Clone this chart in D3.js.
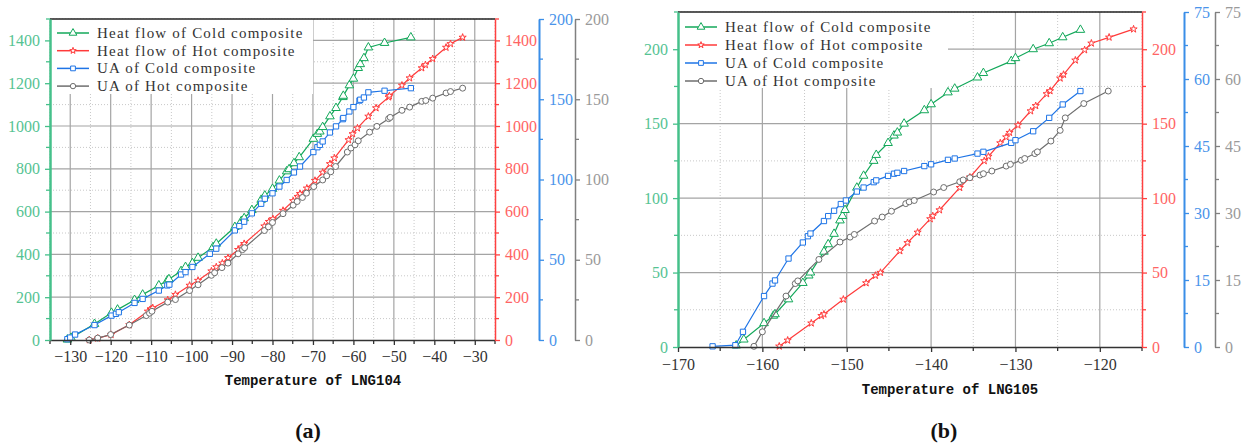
<!DOCTYPE html>
<html>
<head>
<meta charset="utf-8">
<script src="https://cdn.jsdelivr.net/npm/d3@7"></script>
<style>
  body { margin: 0; background: #fff; }
  svg { display: block; }
</style>
</head>
<body>
<script>
// ---- data (temperature, value) ----
// panel (a) LNG104
const aColdHeat = [[-130.7,2],[-129.8,10],[-124.0,75],[-119.8,127],[-118.3,142],[-114.1,187],[-112.1,212],[-108.1,255],[-106.0,278],[-105.6,284],[-102.6,322],[-101.5,341],[-99.8,359],[-98.4,384],[-94.7,434],[-93.9,450],[-89.3,528],[-87.7,556],[-87.0,569],[-85.1,607],[-82.8,655],[-81.9,675],[-80.0,706],[-78.3,745],[-76.5,788],[-75.9,798],[-74.7,826],[-73.4,854],[-69.9,940],[-68.9,963],[-68.3,974],[-67.6,995],[-65.8,1045],[-64.3,1084],[-62.6,1135],[-62.5,1141],[-61.0,1190],[-60.0,1221],[-58.8,1271],[-58.3,1289],[-57.4,1317],[-56.3,1367],[-52.3,1388],[-45.8,1414]];
const aHotHeat = [[-125.3,0],[-123.2,8],[-119.9,25],[-115.4,71],[-110.8,134],[-110.0,145],[-109.6,150],[-105.9,187],[-104.0,212],[-100.5,255],[-98.4,278],[-95.1,322],[-93.9,341],[-92.4,359],[-91.0,384],[-88.5,422],[-87.7,434],[-87.0,450],[-82.0,532],[-80.9,553],[-79.9,566],[-77.4,605],[-74.9,650],[-73.8,670],[-73.2,684],[-71.5,709],[-69.5,745],[-67.6,783],[-65.8,823],[-64.7,850],[-61.2,935],[-60.2,963],[-59.0,990],[-56.3,1045],[-54.4,1084],[-51.3,1135],[-51.1,1141],[-48.0,1190],[-46.1,1224],[-43.1,1271],[-42.2,1286],[-40.4,1314],[-37.1,1367],[-36.0,1384],[-33.0,1414]];
const aColdUA = [[-130.7,0.5],[-130.0,1.5],[-128.8,3.4],[-124.0,9.3],[-119.8,15.2],[-118.7,16.3],[-118.0,17.3],[-114.1,23.1],[-112.1,25.6],[-108.1,30.8],[-106.0,34.0],[-105.5,34.5],[-102.6,40.8],[-101.5,42.3],[-99.8,45.5],[-95.5,53.7],[-93.9,56.9],[-89.3,68.3],[-88.2,71.0],[-87.0,73.7],[-85.1,78.9],[-82.8,84.9],[-81.9,88.0],[-80.0,91.4],[-78.3,95.6],[-76.5,99.7],[-74.7,104.4],[-73.2,108.1],[-69.9,117.1],[-68.9,120.1],[-68.3,121.6],[-67.6,123.7],[-65.8,129.3],[-64.3,133.1],[-62.6,137.6],[-62.5,138.3],[-61.0,142.4],[-60.0,145.1],[-58.5,149.2],[-58.3,149.7],[-57.4,151.1],[-56.3,154.3],[-52.3,155.3],[-45.8,156.9]];
const aHotUA = [[-125.3,0],[-123.2,1.2],[-120.0,3.4],[-115.4,9.3],[-111.2,15.2],[-110.4,16.7],[-109.8,17.9],[-105.9,23.6],[-104.0,25.2],[-100.5,30.8],[-98.4,34.4],[-95.1,40.3],[-94.3,41.9],[-92.5,45.1],[-91.0,47.9],[-88.5,53.7],[-87.4,56.3],[-86.9,57.5],[-82.0,68.2],[-81.0,70.5],[-80.0,73.2],[-77.4,78.7],[-74.9,84.0],[-73.9,86.3],[-72.6,88.8],[-71.6,91.5],[-69.8,95.6],[-67.6,99.7],[-66.6,102.3],[-65.6,104.8],[-64.4,108.1],[-61.5,117.1],[-60.6,119.6],[-59.6,121.6],[-58.8,124.1],[-56.0,129.5],[-54.2,133.1],[-51.3,137.9],[-50.9,138.7],[-48.0,143.1],[-46.1,145.1],[-43.1,148.7],[-42.1,149.2],[-40.4,150.7],[-37.1,153.9],[-36.0,154.8],[-33.0,156.9]];

// panel (b) LNG105
const bColdHeat = [[-163.1,1],[-162.2,5],[-159.8,16],[-158.7,21],[-158.5,22],[-156.9,32],[-155.2,43],[-154.5,48],[-154.3,50],[-152.7,64],[-152.2,69],[-151.5,76],[-150.8,85],[-150.5,88],[-150.2,92],[-148.8,107],[-148.0,115],[-146.8,125],[-146.5,129],[-145.1,137],[-144.4,142],[-144.0,144],[-143.2,150],[-140.8,159],[-140.0,163],[-138.0,171],[-137.2,173.5],[-134.5,181],[-133.8,184],[-130.5,192],[-130.0,194],[-127.9,200],[-126.0,204],[-124.4,208],[-122.3,213]];
const bHotHeat = [[-158.0,0.5],[-157.0,4.5],[-154.2,16],[-153.0,21],[-152.7,22],[-150.4,32],[-147.7,43],[-146.6,48],[-146.0,50],[-143.7,64.5],[-142.8,70],[-141.6,77],[-140.1,86],[-139.8,88],[-139.0,92],[-136.6,107],[-135.4,114],[-133.7,125],[-133.2,128],[-131.8,137],[-131.1,141],[-130.7,144],[-129.7,149],[-128.2,158.5],[-127.6,162],[-126.3,170],[-125.9,172],[-124.7,180.5],[-124.3,183],[-122.9,192.6],[-121.8,199.5],[-121.0,204],[-118.9,208],[-116.0,213.5]];
const bColdUA = [[-165.9,0.15],[-163.2,0.4],[-162.3,3.4],[-159.8,11.4],[-158.8,14.2],[-158.5,14.9],[-156.9,19.8],[-155.2,23.4],[-154.6,24.8],[-154.3,25.4],[-152.7,28.2],[-152.2,29.3],[-151.5,30.5],[-150.7,32],[-150.1,32.8],[-148.8,34.8],[-148.0,35.7],[-146.8,36.9],[-146.5,37.3],[-145.1,38.3],[-144.4,38.8],[-144.0,39],[-143.2,39.4],[-140.8,40.5],[-140.0,40.9],[-138.0,41.9],[-137.2,42.2],[-134.5,43.3],[-133.8,43.7],[-130.5,45.7],[-130.0,46.3],[-127.9,48.3],[-126.0,51.3],[-124.4,54.3],[-122.3,57.3]];
const bHotUA = [[-161.0,0.15],[-160.0,3.4],[-157.2,11.4],[-156.1,14.2],[-155.8,14.8],[-153.3,19.6],[-150.8,23.5],[-149.6,24.6],[-149.1,25.2],[-146.7,28.2],[-145.8,29.1],[-144.7,30.4],[-143.0,32.1],[-142.6,32.5],[-142.0,32.8],[-139.7,34.7],[-138.5,35.7],[-136.6,37.0],[-136.2,37.4],[-135.4,37.9],[-134.2,38.5],[-133.8,38.8],[-132.8,39.4],[-131.1,40.5],[-130.6,40.9],[-129.3,41.8],[-128.9,42.2],[-127.7,43.3],[-127.4,43.7],[-125.8,46.1],[-124.7,48.5],[-124.1,51.3],[-121.9,54.5],[-119.0,57.3]];

const seriesNames = ['Heat flow of Cold composite', 'Heat flow of Hot composite', 'UA of Cold composite', 'UA of Hot composite'];

// ---- styling ----
const tickFont = '"Liberation Serif", "DejaVu Serif", serif';
const colGreen = '#13a85a', colRed = '#ff3a3a', colBlue = '#1e74e6', colGray = '#6e6e6e';
const symbols = [d3.symbolTriangle, d3.symbolStar, d3.symbolSquare, d3.symbolCircle];
const symSize = [32, 16, 28, 28];
const lineCols = [colGreen, colRed, colBlue, colGray];
const fmt = d3.format('d');

const svg = d3.select('body').append('svg')
    .attr('width', 1252)
    .attr('height', 444);

function drawPanel(p) {
    const g = svg.append('g');
    const x = d3.scaleLinear().domain(p.xDom).range([p.left, p.right]);
    const y1 = d3.scaleLinear().domain(p.y1Dom).range([p.bottom, p.top]);
    const y2 = d3.scaleLinear().domain(p.y2Dom).range([p.bottom, p.top]);

    // grid: minor dotted first, major solid on top
    const xFirst = Math.ceil(p.xDom[0] / p.xStep) * p.xStep;
    const xMajor = d3.range(xFirst, p.xDom[1] + 0.01, p.xStep);
    const xMinor = d3.range(Math.ceil(p.xDom[0] / (p.xStep / 2)) * (p.xStep / 2), p.xDom[1] + 0.01, p.xStep / 2)
        .filter(v => v % p.xStep !== 0);
    const yMinor = d3.range(p.y1Step / 2, p.y1Dom[1] + 0.01, p.y1Step);
    const yMajor = d3.range(p.y1Step, p.y1Dom[1] + 0.01, p.y1Step);

    g.selectAll('.vmin').data(xMinor).enter().append('line')
        .attr('x1', d => x(d)).attr('x2', d => x(d))
        .attr('y1', p.top).attr('y2', p.bottom)
        .attr('stroke', '#c8c8c8').attr('stroke-width', 1).attr('stroke-dasharray', '1,2');
    g.selectAll('.hmin').data(yMinor).enter().append('line')
        .attr('x1', p.left).attr('x2', p.right)
        .attr('y1', d => y1(d)).attr('y2', d => y1(d))
        .attr('stroke', '#c8c8c8').attr('stroke-width', 1).attr('stroke-dasharray', '1,2');
    g.selectAll('.vmaj').data(xMajor.filter(v => v !== p.xDom[0])).enter().append('line')
        .attr('x1', d => x(d)).attr('x2', d => x(d))
        .attr('y1', p.top).attr('y2', p.bottom)
        .attr('stroke', '#a4a4a4').attr('stroke-width', 1.2);
    g.selectAll('.hmaj').data(yMajor).enter().append('line')
        .attr('x1', p.left).attr('x2', p.right)
        .attr('y1', d => y1(d)).attr('y2', d => y1(d))
        .attr('stroke', '#a4a4a4').attr('stroke-width', 1.2);

    // legend background hides the grid
    g.append('rect')
        .attr('x', p.left).attr('y', p.top)
        .attr('width', p.legW).attr('height', p.legH)
        .attr('fill', '#fff');

    // top frame
    g.append('line')
        .attr('x1', p.left).attr('x2', p.right)
        .attr('y1', p.top).attr('y2', p.top)
        .attr('stroke', '#222').attr('stroke-width', 1.5);

    // series
    p.series.forEach((data, i) => {
        const ys = i < 2 ? y1 : y2;
        const line = d3.line().x(d => x(d[0])).y(d => ys(d[1]));
        g.append('path').datum(data)
            .attr('d', line)
            .attr('fill', 'none')
            .attr('stroke', lineCols[i])
            .attr('stroke-width', 1.2);
        g.selectAll('.m' + i).data(data).enter().append('path')
            .attr('d', d3.symbol().type(symbols[i]).size(symSize[i]))
            .attr('transform', d => 'translate(' + x(d[0]) + ',' + ys(d[1]) + ')')
            .attr('fill', '#fff')
            .attr('stroke', lineCols[i])
            .attr('stroke-width', 1);
    });

    // axes
    function styleAxis(sel, lineCol, textCol, width) {
        sel.select('.domain').attr('stroke', lineCol).attr('stroke-width', width);
        sel.selectAll('.tick line').attr('stroke', lineCol).attr('stroke-width', 1.3);
        sel.selectAll('text').attr('fill', textCol)
            .style('font-family', tickFont).style('font-size', '16px');
    }
    function minorTicks(sel, scale, vals, dir) {
        sel.selectAll('.mt').data(vals).enter().append('line')
            .attr('x1', 0).attr('x2', dir * 4)
            .attr('y1', d => scale(d)).attr('y2', d => scale(d))
            .attr('stroke', sel.select('.domain').attr('stroke')).attr('stroke-width', 1.3);
    }

    const xAxis = g.append('g')
        .attr('transform', 'translate(0,' + p.bottom + ')')
        .call(d3.axisBottom(x).tickValues(xMajor).tickFormat(fmt).tickSize(5).tickSizeOuter(0).tickPadding(p.xPad));
    styleAxis(xAxis, '#333', '#333', 1.5);
    xAxis.selectAll('.mtx').data(xMinor).enter().append('line')
        .attr('x1', d => x(d)).attr('x2', d => x(d)).attr('y1', 0).attr('y2', 4)
        .attr('stroke', '#333').attr('stroke-width', 1.3);

    const y1Ticks = d3.range(0, p.y1Dom[1] + 0.01, p.y1Step);
    const ax1 = g.append('g').attr('transform', 'translate(' + p.left + ',0)')
        .call(d3.axisLeft(y1).tickValues(y1Ticks).tickFormat(fmt).tickSize(5).tickSizeOuter(0).tickPadding(5));
    styleAxis(ax1, '#45c08a', '#55c393', 2.5);
    minorTicks(ax1, y1, yMinor, -1);

    const ax2 = g.append('g').attr('transform', 'translate(' + p.right + ',0)')
        .call(d3.axisRight(y1).tickValues(y1Ticks).tickFormat(fmt).tickSize(5).tickSizeOuter(0).tickPadding(5));
    styleAxis(ax2, '#ff4040', '#ff6464', 1.5);
    minorTicks(ax2, y1, yMinor, 1);

    const y2Ticks = d3.range(0, p.y2Dom[1] + 0.01, p.y2Step);
    const y2Minor = d3.range(p.y2Step / 2, p.y2Dom[1], p.y2Step);
    const ax3 = g.append('g').attr('transform', 'translate(' + p.blueX + ',0)')
        .call(d3.axisRight(y2).tickValues(y2Ticks).tickFormat(fmt).tickSize(5).tickSizeOuter(0).tickPadding(5));
    styleAxis(ax3, '#3a8ee8', '#4a94ea', 2);
    minorTicks(ax3, y2, y2Minor, 1);

    const ax4 = g.append('g').attr('transform', 'translate(' + p.grayX + ',0)')
        .call(d3.axisRight(y2).tickValues(y2Ticks).tickFormat(fmt).tickSize(5).tickSizeOuter(0).tickPadding(5));
    styleAxis(ax4, '#808080', '#9a9a9a', 1.5);
    minorTicks(ax4, y2, y2Minor, 1);

    // legend
    seriesNames.forEach((name, i) => {
        const ly = p.top + p.legRow0 + i * p.legRowH;
        const lx = p.left + 7;
        g.append('line')
            .attr('x1', lx).attr('x2', lx + 32).attr('y1', ly).attr('y2', ly)
            .attr('stroke', lineCols[i]).attr('stroke-width', 1.5);
        g.append('path')
            .attr('d', d3.symbol().type(symbols[i]).size(symSize[i] * 0.8))
            .attr('transform', 'translate(' + (lx + 16) + ',' + ly + ')')
            .attr('fill', '#fff').attr('stroke', lineCols[i]).attr('stroke-width', 1);
        g.append('text')
            .attr('x', lx + 40).attr('y', ly + 5)
            .text(name)
            .style('font-family', tickFont).style('font-size', '15px')
            .style('letter-spacing', '1.2px')
            .attr('fill', '#333');
    });

    // axis title and panel label
    g.append('text')
        .attr('x', p.titleX).attr('y', p.titleY)
        .attr('text-anchor', 'middle')
        .text(p.title)
        .style('font-family', '"Liberation Mono", "DejaVu Sans Mono", monospace')
        .style('font-weight', 'bold').style('font-size', '14px')
        .attr('fill', '#111');
    g.append('text')
        .attr('x', p.tagX).attr('y', 438)
        .attr('text-anchor', 'middle')
        .text(p.tag)
        .style('font-family', tickFont)
        .style('font-weight', 'bold').style('font-size', '22px')
        .attr('fill', '#111');
}

drawPanel({
    left: 50, right: 495, top: 19, bottom: 340, blueX: 539, grayX: 575,
    xDom: [-135, -25], xStep: 10, xPad: 6,
    y1Dom: [0, 1500], y1Step: 200,
    y2Dom: [0, 200], y2Step: 50,
    legW: 263, legH: 75, legRow0: 14, legRowH: 17.7,
    series: [aColdHeat, aHotHeat, aColdUA, aHotUA],
    title: 'Temperature of LNG104', titleX: 313, titleY: 385,
    tag: '(a)', tagX: 308
});

drawPanel({
    left: 678, right: 1142, top: 12, bottom: 347, blueX: 1184, grayX: 1215,
    xDom: [-170, -115], xStep: 10, xPad: 7,
    y1Dom: [0, 225], y1Step: 50,
    y2Dom: [0, 75], y2Step: 15,
    legW: 270, legH: 76, legRow0: 15, legRowH: 18,
    series: [bColdHeat, bHotHeat, bColdUA, bHotUA],
    title: 'Temperature of LNG105', titleX: 950, titleY: 394,
    tag: '(b)', tagX: 944
});
</script>
</body>
</html>
